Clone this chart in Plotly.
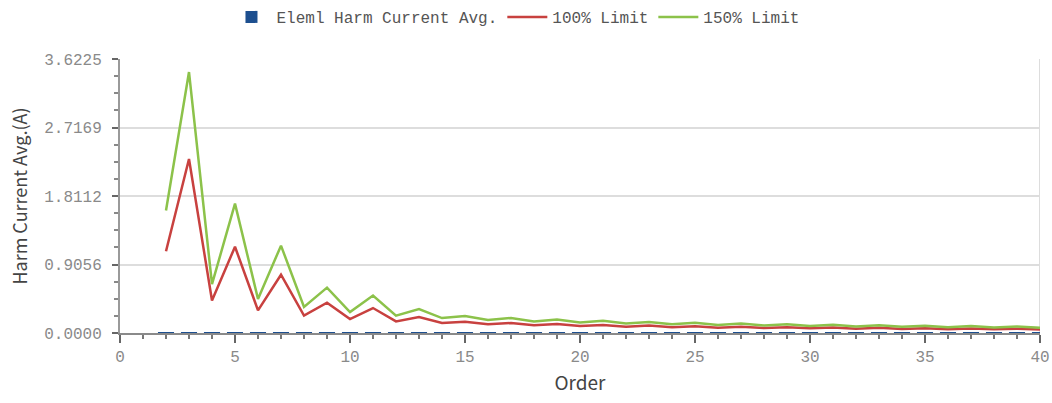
import plotly.graph_objects as go

orders = list(range(2, 41))
elem_avg = [0.012] * 39
limit_100 = [1.08, 2.30, 0.43, 1.14, 0.30, 0.77, 0.23, 0.40, 0.184, 0.33,
             0.1533, 0.21, 0.1314, 0.15, 0.115, 0.1324, 0.1022, 0.1184, 0.092, 0.1071,
             0.0836, 0.0978, 0.0767, 0.09, 0.0708, 0.0833, 0.0657, 0.0776, 0.0613, 0.0726,
             0.0575, 0.0682, 0.0541, 0.0643, 0.0511, 0.0608, 0.0484, 0.0577, 0.046]
limit_150 = [1.62, 3.45, 0.645, 1.71, 0.45, 1.155, 0.345, 0.60, 0.276, 0.495,
             0.23, 0.315, 0.1971, 0.225, 0.1725, 0.1986, 0.1533, 0.1776, 0.138, 0.1607,
             0.1254, 0.1467, 0.1151, 0.135, 0.1062, 0.125, 0.0986, 0.1164, 0.092, 0.1089,
             0.0863, 0.1023, 0.0812, 0.0965, 0.0767, 0.0912, 0.0726, 0.0866, 0.069]
y_ticks = [0.0, 0.9056, 1.8112, 2.7169, 3.6225]
y_ticktext = ["0.0000", "0.9056", "1.8112", "2.7169", "3.6225"]
x_ticks = [0, 5, 10, 15, 20, 25, 30, 35, 40]

mono = "Liberation Mono"
sans = "Noto Sans CJK SC"

fig = go.Figure()
fig.add_trace(go.Bar(x=orders, y=elem_avg, name="Eleml Harm Current Avg.",
                     marker=dict(color="#1d4f8f", line=dict(width=0)), width=0.7))
fig.add_trace(go.Scatter(x=orders, y=limit_100, name="100% Limit", mode="lines",
                         line=dict(color="#c8413f", width=2.5)))
fig.add_trace(go.Scatter(x=orders, y=limit_150, name="150% Limit", mode="lines",
                         line=dict(color="#8cc24a", width=2.5)))

fig.add_shape(type="line", xref="x", yref="paper", x0=40, x1=40, y0=0, y1=1,
              line=dict(color="#dddddd", width=2), layer="below")

fig.update_layout(
    width=1052, height=403,
    margin=dict(l=120, r=12, t=59, b=70, autoexpand=False),
    paper_bgcolor="white", plot_bgcolor="white",
    showlegend=True,
    legend=dict(orientation="h", xref="container", yref="container",
                x=0.49, xanchor="center", y=1.0, yanchor="top",
                font=dict(family=mono, size=16, color="#555555"),
                itemwidth=40, traceorder="normal"),
    bargap=0.3,
)
fig.update_xaxes(
    range=[0, 40], tickvals=x_ticks, showgrid=False, zeroline=False,
    showline=True, linecolor="#8a8a8a", linewidth=2,
    ticks="outside", ticklen=8, tickwidth=2, tickcolor="#666666",
    minor=dict(dtick=1, ticks="outside", ticklen=4, tickwidth=2, tickcolor="#777777", showgrid=False),
    tickfont=dict(family=mono, size=16, color="#8a8a8a"),
    title=dict(text="Order", font=dict(family=sans, size=19, color="#444444"), standoff=10),
)
fig.update_yaxes(
    range=[0, 3.6225], tickvals=y_ticks, ticktext=y_ticktext,
    showgrid=True, gridcolor="#dddddd", gridwidth=2, zeroline=False,
    showline=True, linecolor="#9a9a9a", linewidth=2,
    ticks="outside", ticklen=6, tickwidth=2, tickcolor="#666666", ticklabelstandoff=7,
    minor=dict(dtick=0.22640625, tick0=0, ticks="outside", ticklen=4, tickwidth=2,
               tickcolor="#888888", showgrid=False),
    tickfont=dict(family=mono, size=16, color="#8a8a8a"),
    title=dict(text="Harm Current Avg.(A)", font=dict(family=sans, size=18, color="#444444"), standoff=12),
)

fig.write_html("out.html", config={"displayModeBar": False},
               post_script="document.body.style.margin='0';document.body.style.overflow='hidden';")
